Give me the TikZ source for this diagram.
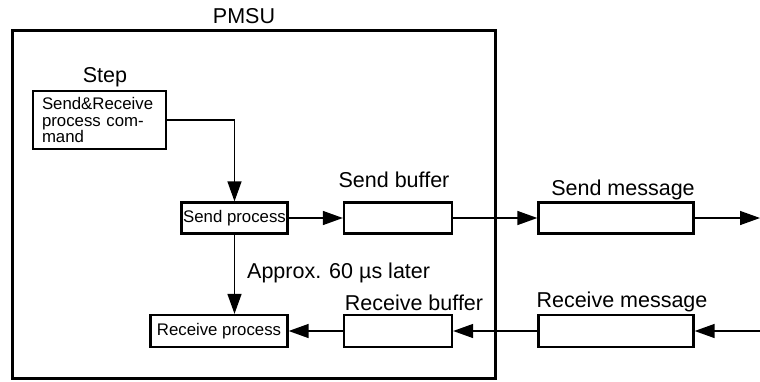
\documentclass[tikz,border=0pt]{standalone}
\usepackage{fontspec}
\setmainfont{Liberation Sans}
\usetikzlibrary{arrows.meta,calc}
\begin{document}
\begin{tikzpicture}[x=1pt,y=-1pt,
  box/.style={draw,line width=2.3pt,rectangle,inner sep=0pt},
  lbl/.style={font=\fontsize{21.5}{25}\selectfont,inner sep=0pt},
  smalltxt/.style={font=\fontsize{16.8}{15}\selectfont},
  conn/.style={line width=1.4pt,-{Triangle[length=20pt,width=14pt]}}]
\useasboundingbox (0,0) rectangle (760,381);
% outer PMSU box
\node[box,line width=2.1pt,minimum width=483pt,minimum height=348pt] (pmsu) at (254,204.5) {};
\node[lbl,anchor=base] (pmsulbl) at (244,23) {PMSU};
% step
\node[lbl,anchor=base] (steplbl) at (105,82) {Step};
\node[box,font=\fontsize{16.8}{16.2}\selectfont,minimum width=133pt,minimum height=58pt,text width=115pt,align=left,inner xsep=9pt] (step) at (99.5,120)
  {Send\&Receive\\process com-\\mand};
% process boxes
\node[box,smalltxt,minimum width=106pt,minimum height=31pt] (sendp) at (234.5,218) {Send process};
\node[box,smalltxt,minimum width=137pt,minimum height=32pt] (recvp) at (219,331) {Receive process};
% buffers and messages
\node[box,minimum width=108pt,minimum height=31pt] (sendbuf) at (398,218) {};
\node[box,minimum width=155pt,minimum height=31pt] (sendmsg) at (616,218) {};
\node[box,minimum width=108pt,minimum height=32pt] (recvbuf) at (398,331) {};
\node[box,minimum width=155pt,minimum height=32pt] (recvmsg) at (616,331) {};
% labels
\node[lbl,anchor=base] (sendbuflbl) at (394,187) {Send buffer};
\node[lbl,anchor=base] (sendmsglbl) at (623,195) {Send message};
\node[lbl,anchor=base] (recvbuflbl) at (414,310) {Receive buffer};
\node[lbl,anchor=base] (recvmsglbl) at (622,307) {Receive message};
\node[lbl,anchor=base west] (approx) at (247,278) {Approx. 60 µs later};
% connectors
\coordinate (outR) at (760,218);
\coordinate (inR) at (760,331);
\draw[conn] (step.east) -| (sendp.north);
\draw[conn] (sendp.south) -- (sendp.south |- recvp.north);
\draw[conn] (sendp.east) -- (sendbuf.west);
\draw[conn] (sendbuf.east) -- (sendmsg.west);
\draw[conn] (sendmsg.east) -- (outR);
\draw[conn] (inR) -- (recvmsg.east);
\draw[conn] (recvmsg.west) -- (recvbuf.east);
\draw[conn] (recvbuf.west) -- (recvp.east);
\end{tikzpicture}
\end{document}
